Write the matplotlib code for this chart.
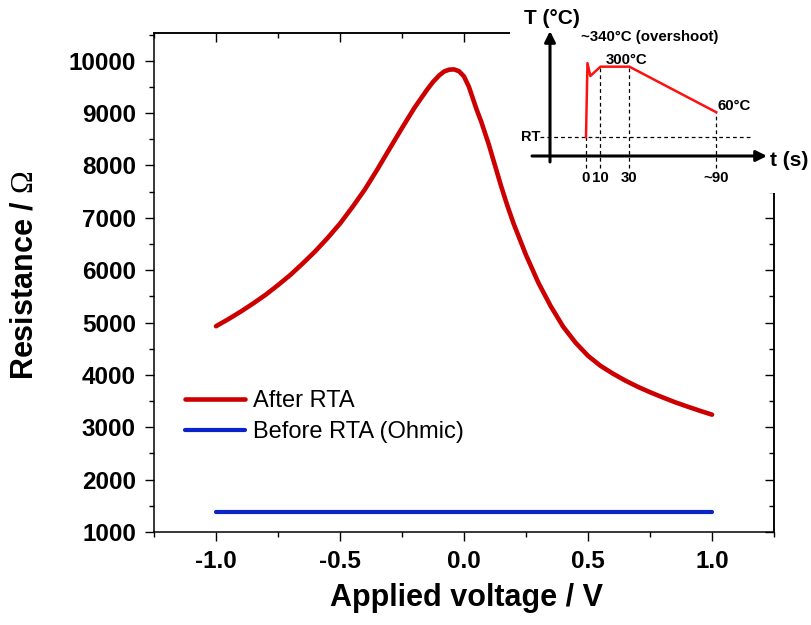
import math
import matplotlib
matplotlib.use("Agg")
import matplotlib.pyplot as plt
from matplotlib.ticker import MultipleLocator

plt.rcParams["font.family"] = ["Liberation Sans", "DejaVu Sans"]
plt.rcParams["mathtext.fontset"] = "custom"
plt.rcParams["mathtext.rm"] = "Liberation Serif"

# Resistance vs. applied voltage
voltage = [-1.0, -0.95, -0.9, -0.85, -0.8, -0.75, -0.7, -0.65, -0.6, -0.55,
           -0.5, -0.45, -0.4, -0.35, -0.3, -0.25, -0.2,
           -0.15, -0.125, -0.1, -0.08, -0.06, -0.04, -0.02, 0.0, 0.02, 0.035,
           0.05, 0.07, 0.1, 0.125, 0.15, 0.175, 0.2, 0.25, 0.3, 0.35,
           0.4, 0.45, 0.5, 0.55, 0.6, 0.65, 0.7, 0.75, 0.8, 0.85,
           0.9, 0.95, 1.0]
r_after_rta = [4930, 5065, 5210, 5365, 5530, 5715, 5910, 6130, 6360, 6615,
               6890, 7205, 7540, 7920, 8320, 8715, 9100,
               9440, 9595, 9720, 9795, 9830, 9835, 9800, 9700, 9500, 9290,
               9080, 8830, 8400, 8000, 7600, 7230, 6890, 6290, 5760, 5310,
               4920, 4615, 4365, 4175, 4026, 3893, 3775, 3670, 3573, 3480,
               3397, 3317, 3241]
voltage_ohmic = [-1.0, 1.0]
r_before_rta = [1390, 1390]

# RTA temperature profile (schematic)
rta_time = [0, 1, 3, 10, 30, 90]
rta_temp = [25, 340, 216, 300, 300, 60]
rt_temp = 25
time_ticks = [0, 10, 30, 90]
time_tick_labels = ["0", "10", "30", "~90"]

W, H = 811, 625
fig = plt.figure(figsize=(W / 100, H / 100), dpi=100)

# main axes, placed in pixels
L, R, T, B = 154, 774, 33, 532
ax = fig.add_axes([L / W, 1 - B / H, (R - L) / W, (B - T) / H])

red = "#CC0000"
blue = "#0A22C8"
ax.plot(voltage, r_after_rta, color=red, lw=3.3, solid_capstyle="round",
        solid_joinstyle="round", label="After RTA")
ax.plot(voltage_ohmic, r_before_rta, color=blue, lw=3.0,
        solid_capstyle="round", label="Before RTA (Ohmic)")

ax.set_xlim(-1.25, 1.25)
ax.set_ylim(1000, 10530)
ax.xaxis.set_major_locator(MultipleLocator(0.5))
ax.xaxis.set_minor_locator(MultipleLocator(0.25))
ax.yaxis.set_major_locator(MultipleLocator(1000))
ax.yaxis.set_minor_locator(MultipleLocator(500))
ax.xaxis.set_major_formatter(plt.FuncFormatter(lambda v, p: f"{v:.1f}"))

for s in ax.spines.values():
    s.set_linewidth(1.1)
ax.tick_params(which="major", direction="out", length=6.5, width=1.0,
               labelsize=17.5, pad=6.5, top=False, right=False)
ax.tick_params(which="minor", direction="out", length=3.3, width=1.0,
               top=False, right=False)
for lab in ax.get_xticklabels() + ax.get_yticklabels():
    lab.set_fontweight("bold")

# mirrored inward ticks on top and right
sx = ax.secondary_xaxis("top")
sx.xaxis.set_major_locator(MultipleLocator(0.5))
sx.xaxis.set_minor_locator(MultipleLocator(0.25))
sx.tick_params(which="major", direction="in", length=6.5, width=1.0,
               labeltop=False)
sx.tick_params(which="minor", direction="in", length=3.3, width=1.0)
sx.spines["top"].set_linewidth(1.1)
sy = ax.secondary_yaxis("right")
sy.yaxis.set_major_locator(MultipleLocator(1000))
sy.yaxis.set_minor_locator(MultipleLocator(500))
sy.tick_params(which="major", direction="in", length=6.5, width=1.0,
               labelright=False)
sy.tick_params(which="minor", direction="in", length=3.3, width=1.0)
sy.spines["right"].set_linewidth(1.1)

fig.text(467 / W, 1 - 598 / H, "Applied voltage / V", ha="center",
         va="center", fontsize=22, fontweight="bold")
fig.text(25 / W, 1 - 275 / H, r"Resistance / $\Omega$", ha="center",
         va="center", rotation=90, fontsize=22, fontweight="bold")

leg = ax.legend(loc="upper left",
                bbox_to_anchor=((185 - L) / (R - L), (B - 390) / (B - T)),
                frameon=False, fontsize=17, handlelength=2.55,
                handletextpad=0.35, labelspacing=0.38, borderpad=0,
                borderaxespad=0)

# inset: RTA temperature profile
iL, iR, iT, iB = 510, 811, 0, 193
axi = fig.add_axes([iL / W, 1 - iB / H, (iR - iL) / W, (iB - iT) / H])
axi.set_facecolor("white")
for s in axi.spines.values():
    s.set_visible(False)
axi.set_yscale("log")

px_per_s = 1.447
t0_px = 586
axi.set_xlim((iL - t0_px) / px_per_s, (iR - t0_px) / px_per_s)
k = 28.3  # pixels per e-fold of temperature
rt_px = 137
axi.set_ylim(rt_temp * math.exp((rt_px - iB) / k),
             rt_temp * math.exp((rt_px - iT) / k))
axi.minorticks_off()
axi.set_xticks([])
axi.set_yticks([])


def fx(px):
    return (px - iL) / (iR - iL)


def fy(py):
    return (iB - py) / (iB - iT)


# axes with arrows
axi.annotate("", xy=(fx(550), fy(31)), xytext=(fx(550), fy(162)),
             xycoords="axes fraction",
             arrowprops=dict(arrowstyle="-|>", lw=2.2, color="black",
                             mutation_scale=16, shrinkA=0, shrinkB=0))
axi.annotate("", xy=(fx(767), fy(156)), xytext=(fx(532), fy(156)),
             xycoords="axes fraction",
             arrowprops=dict(arrowstyle="-|>", lw=2.2, color="black",
                             mutation_scale=16, shrinkA=0, shrinkB=0))

# dashed guides
ytr = axi.get_yaxis_transform()
axi.plot([fx(540), fx(752)], [rt_temp, rt_temp], transform=ytr,
         color="black", lw=0.9, ls=(0, (3, 2.5)))
y_bot = axi.transData.inverted().transform(
    axi.transAxes.transform((0, fy(168))))[1]
for t in time_ticks:
    top = rta_temp[rta_time.index(t)] if t != 0 else rt_temp
    axi.plot([t, t], [y_bot, top], color="black", lw=0.9, ls=(0, (3, 2.5)))

axi.plot(rta_time, rta_temp, color="#FF1010", lw=1.8)

xtr = axi.get_xaxis_transform()
for t, lab in zip(time_ticks, time_tick_labels):
    axi.text(t, fy(178), lab, transform=xtr, ha="center", va="center",
             fontsize=10.8, fontweight="bold")

axi.text(fx(552), fy(18), "T (°C)", transform=axi.transAxes, ha="center",
         va="center", fontsize=15, fontweight="bold")
axi.text(fx(770), fy(160), "t (s)", transform=axi.transAxes, ha="left",
         va="center", fontsize=15, fontweight="bold")
axi.text(fx(521), rt_temp, "RT", transform=ytr, ha="left", va="center",
         fontsize=10.5, fontweight="bold")
axi.text(fx(581), fy(37), "~340°C (overshoot)", transform=axi.transAxes,
         ha="left", va="center", fontsize=10.8, fontweight="bold")
axi.text(fx(606), fy(60), "300°C", transform=axi.transAxes, ha="left",
         va="center", fontsize=10.8, fontweight="bold")
axi.text(fx(718), fy(106), "60°C", transform=axi.transAxes, ha="left",
         va="center", fontsize=10.8, fontweight="bold")

fig.savefig("out.png", dpi=100)
